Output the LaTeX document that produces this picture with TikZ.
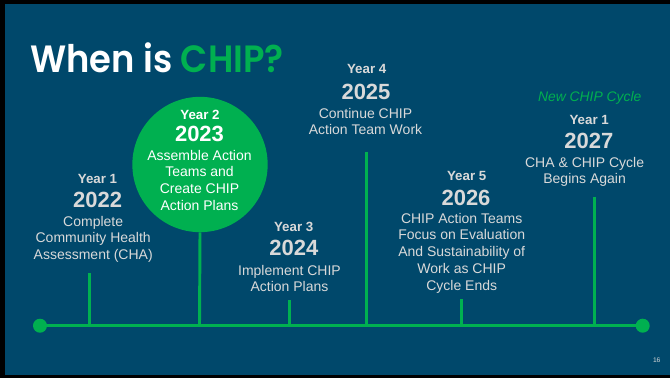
\documentclass[tikz,border=0pt]{standalone}
\usepackage{fontspec}
\setmainfont{Liberation Sans}
\newfontfamily\titlefont{Poppins SemiBold}
\definecolor{bgblue}{RGB}{0,72,107}
\definecolor{chipgreen}{RGB}{0,176,80}
\definecolor{txtgrey}{RGB}{217,217,217}
\tikzset{
  yearlbl/.style={anchor=base, inner sep=0pt, text=txtgrey, font=\fontsize{10}{12}\selectfont\bfseries},
  yearnum/.style={anchor=base, inner sep=0pt, text=txtgrey, font=\fontsize{16.5}{19}\selectfont\bfseries},
  desc/.style={anchor=base, inner sep=0pt, text=txtgrey, align=center, font=\fontsize{10.5}{12.6}\selectfont},
  tline/.style={draw=chipgreen, line width=2.4pt},
  tick/.style={draw=chipgreen, line width=2.2pt},
  dot/.style={circle, fill=chipgreen, minimum size=10.5pt, inner sep=0pt},
}
\begin{document}
\begin{tikzpicture}[x=0.75pt,y=-0.75pt]
\useasboundingbox (0,0) rectangle (670,378);
\fill[black] (0,0) rectangle (670,378);
\fill[bgblue] (5,4) rectangle (670,375);
% title
\node[anchor=base west, inner sep=0pt, font=\titlefont\fontsize{28.5}{34}\selectfont] (title) at (30,72) {\scalebox{0.93}[1]{\textcolor{white}{When is }\textcolor{chipgreen}{CHIP?}}};
% timeline
\node[dot] (L) at (40,325.7) {};
\node[dot] (R) at (642.7,325.7) {};
\draw[tline] (L.center) -- (R.center);
% green circle
\node[circle, fill=chipgreen, minimum size=101.5pt, inner sep=0pt] (c2) at (200,164.5) {};
% ticks
\coordinate (b1) at (89.5,325.7); \coordinate (a1) at (89.5,273.3);
\coordinate (b2) at (199.5,325.7);
\coordinate (b3) at (289.3,325.7); \coordinate (a3) at (289.3,300);
\coordinate (b4) at (366.7,325.7); \coordinate (a4) at (366.7,151.7);
\coordinate (b5) at (461.7,325.7); \coordinate (a5) at (461.7,299.3);
\coordinate (b6) at (594.3,325.7); \coordinate (a6) at (594.3,196.7);
\draw[tick] (a1) -- (b1);
\draw[tick] (c2.south) -- (b2);
\draw[tick] (a3) -- (b3);
\draw[tick] (a4) -- (b4);
\draw[tick] (a5) -- (b5);
\draw[tick] (a6) -- (b6);
% Year 1
\node[yearlbl] (y1) at (97.5,183) {Year 1};
\node[yearnum] (n1) at (97.7,207) {2022};
\node[desc] (d1) at (93.2,259.6) {Complete\\Community Health\\Assessment (CHA)};
% Year 2 (in circle)
\node[yearlbl, text=white] (y2) at (200,119.5) {Year 2};
\node[yearnum, text=white] (n2) at (199.5,141.7) {2023};
\node[desc, text=white] (d2) at (199.5,210.4) {Assemble Action\\Teams and\\Create CHIP\\Action Plans};
% Year 3
\node[yearlbl] (y3) at (293.7,231) {Year 3};
\node[yearnum] (n3) at (293.8,255) {2024};
\node[desc] (d3) at (289.5,291.8) {Implement CHIP\\Action Plans};
% Year 4
\node[yearlbl] (y4) at (366.7,74) {Year 4};
\node[yearnum] (n4) at (366,99) {2025};
\node[desc] (d4) at (365.5,134.8) {Continue CHIP\\Action Team Work};
% Year 5
\node[yearlbl] (y5) at (466.7,180) {Year 5};
\node[yearnum] (n5) at (466,205) {2026};
\node[desc] (d5) at (461.7,290.2) {CHIP Action Teams\\Focus on Evaluation\\And Sustainability of\\Work as CHIP\\Cycle Ends};
% New cycle
\node[anchor=base, inner sep=0pt, text=chipgreen, font=\fontsize{10.4}{12}\selectfont\itshape] (nc) at (589.7,101.7) {New CHIP Cycle};
\node[yearlbl] (y6) at (589.2,124) {Year 1};
\node[yearnum] (n6) at (588.8,148) {2027};
\node[desc] (d6) at (584.6,183.8) {CHA \& CHIP Cycle\\Begins Again};
% page number
\node[anchor=base, inner sep=0pt, text=txtgrey, font=\fontsize{5}{6}\selectfont] (pg) at (656.7,362) {16};
\end{tikzpicture}
\end{document}
